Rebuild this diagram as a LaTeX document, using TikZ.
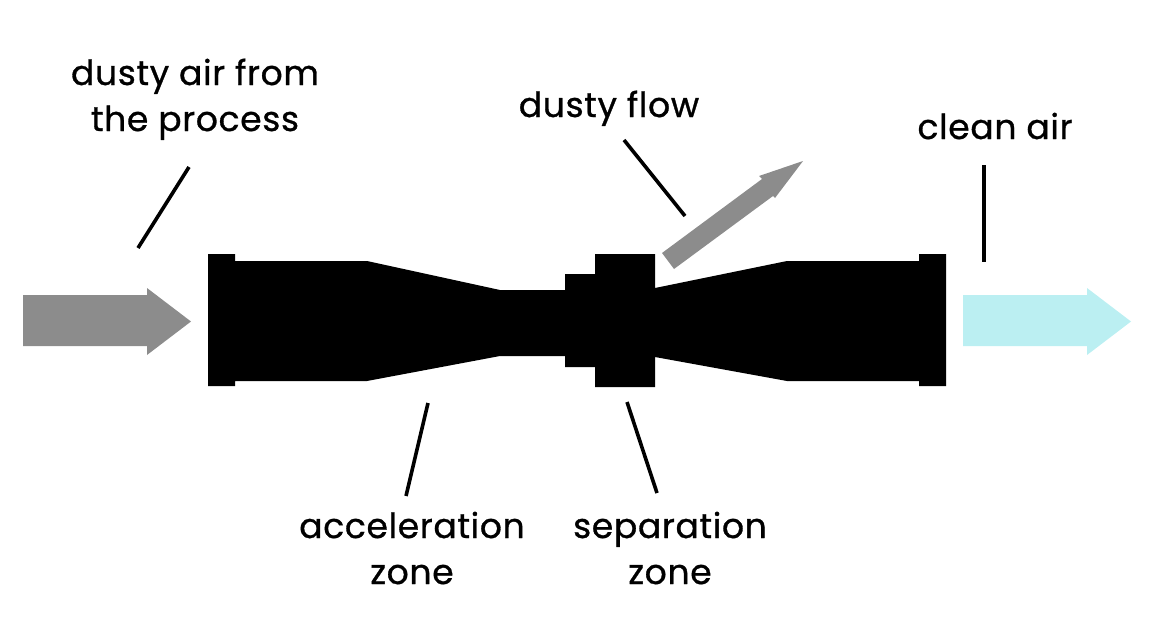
\documentclass[tikz,border=0pt]{standalone}
\usepackage{fontspec}
\setmainfont{Poppins}[FakeBold=0.9,LetterSpace=2]
\tikzset{
  label text/.style={anchor=base,inner sep=0pt,font=\fontsize{34.5}{34.5}\selectfont,text=black},
  leader/.style={draw=black,line width=3.6pt},
  solid black/.style={fill=black,draw=none},
  grayarrow/.style={fill=black!45,draw=none},
  cleanarrow/.style={fill=cyanpale,draw=none}
}
\definecolor{cyanpale}{HTML}{BBEFF2}
\begin{document}
\begin{tikzpicture}[x=1pt,y=-1pt]
\useasboundingbox (0,0) rectangle (1150,640);
% body
\fill[solid black] (208,254) -- (235,254) -- (235,261) -- (367,261) -- (500,290) -- (565,290) -- (565,274) -- (595,274) -- (595,254) -- (655,254) -- (655,288) -- (787,261) -- (919,261) -- (919,254) -- (946,254) -- (946,386) -- (919,386) -- (919,381) -- (787,381) -- (655,357) -- (655,387) -- (595,387) -- (595,367) -- (565,367) -- (565,356) -- (500,356) -- (367,381) -- (235,381) -- (235,386) -- (208,386) -- cycle;
% arrows
\fill[grayarrow] (23,295) -- (147,295) -- (147,288) -- (191,321.5) -- (147,355) -- (147,346) -- (23,346) -- cycle;
\fill[cleanarrow] (963,295) -- (1087,295) -- (1087,288) -- (1131,321.5) -- (1087,355) -- (1087,346) -- (963,346) -- cycle;
\fill[grayarrow] (662,253) -- (762,179) -- (759,176) -- (803,161) -- (775,198) -- (773,196) -- (674,269) -- cycle;
% labels
\node[label text] (l1a) at (195,85) {dusty air from};
\node[label text] (l1b) at (195,131) {the process};
\node[label text] (l2) at (609,117) {dusty flow};
\node[label text] (l3) at (995,139) {clean air};
\node[label text] (l4a) at (412,538) {acceleration};
\node[label text] (l4b) at (412,584) {zone};
\node[label text] (l5a) at (670,538) {separation};
\node[label text] (l5b) at (670,584) {zone};
% leaders
\coordinate (a1) at (189,167); \coordinate (a2) at (138,248);
\coordinate (b1) at (624,140); \coordinate (b2) at (685,216);
\coordinate (c1) at (984,165); \coordinate (c2) at (984,262);
\coordinate (d1) at (428,403); \coordinate (d2) at (406,496);
\coordinate (e1) at (627,402); \coordinate (e2) at (657,493);
\draw[leader] (a1) -- (a2);
\draw[leader] (b1) -- (b2);
\draw[leader] (c1) -- (c2);
\draw[leader] (d1) -- (d2);
\draw[leader] (e1) -- (e2);
\end{tikzpicture}
\end{document}
